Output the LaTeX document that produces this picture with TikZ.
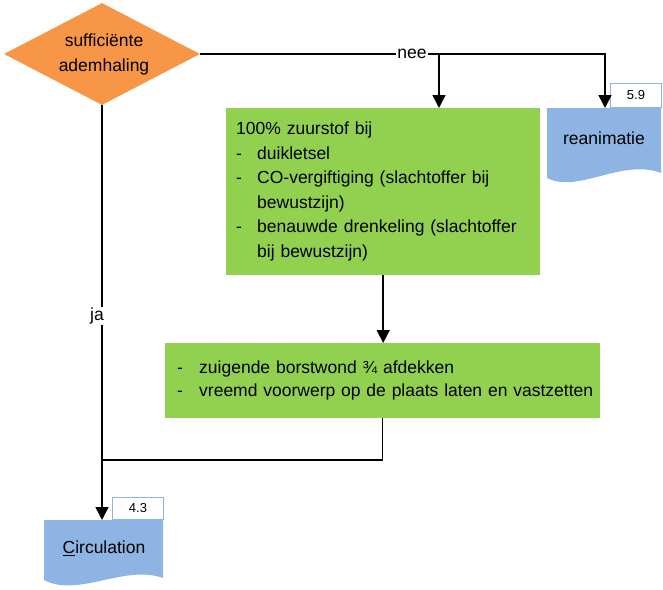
\documentclass[tikz,border=0pt]{standalone}
\usepackage{fontspec}
\setmainfont{Liberation Sans}
\usetikzlibrary{shapes.geometric,arrows.meta}
\definecolor{dorange}{HTML}{F79646}
\definecolor{dgreen}{HTML}{92D050}
\definecolor{dblue}{HTML}{8DB4E2}
\begin{document}
\begin{tikzpicture}[x=1pt,y=-1pt,
  font=\fontsize{17.5}{23}\selectfont,
  conn/.style={line width=1.5pt, draw=black},
  arr/.style={conn, -{Triangle[width=13pt,length=13pt]}},
  greenbox/.style={fill=dgreen, anchor=north west, align=left, inner ysep=0pt},
  tagbox/.style={draw=dblue, fill=white, line width=1pt, anchor=south west, inner sep=0pt,
    font=\fontsize{13}{13}\selectfont},
  lbl/.style={fill=white, inner sep=1pt}]
\useasboundingbox (0,0) rectangle (663,589);

% decision
\node[diamond, fill=dorange, minimum width=196, minimum height=102, inner sep=0pt] (d) at (102,54) {};
\node[align=center, font=\fontsize{17.5}{25}\selectfont] (dtxt) at (104,54) {sufficiënte\\ademhaling};

% reanimatie document
\fill[dblue] (547,108) -- (661,108) -- (661,173) .. controls (622,158) and (578,194) .. (547,178) -- cycle;
\node (rea) at (604,138) {reanimatie};
\node[tagbox, minimum width=51, minimum height=24] (t59) at (610,108) {5.9};
\coordinate (reatop) at (605,108);

% circulation document
\fill[dblue] (44,520) -- (163,520) -- (163,578) .. controls (125,564) and (78,598) .. (44,580) -- cycle;
\node (circ) at (104,548) {\underline{C}irculation};
\node[tagbox, minimum width=51, minimum height=22] (t43) at (112,520) {4.3};
\coordinate (circtop) at (102,520);

% green boxes
\node[greenbox, minimum width=314, minimum height=167, text width=294, inner xsep=10pt] (g1) at (226,108) {%
100\% zuurstof bij\\[1.5pt]
\makebox[21pt][l]{-}duikletsel\\[1.5pt]
\makebox[21pt][l]{-}CO-vergiftiging (slachtoffer bij\\[1.5pt]
\hspace*{21pt}bewustzijn)\\[1.5pt]
\makebox[21pt][l]{-}benauwde drenkeling (slachtoffer\\[1.5pt]
\hspace*{21pt}bij bewustzijn)};
\node[greenbox, minimum width=435, minimum height=75, text width=411, inner xsep=12pt] (g2) at (165,343) {%
\makebox[22pt][l]{-}zuigende borstwond ¾ afdekken\\
\mbox{\makebox[22pt][l]{-}vreemd voorwerp op de plaats laten en vastzetten}};

% connectors
\coordinate (j1) at (439,54);
\coordinate (ji) at (102,460);
\draw[arr] (d.east) -| (reatop);
\draw[arr] (j1) -- (j1 |- g1.north);
\draw[arr] (g1.south) -- (g1.south |- g2.north);
\draw[conn] (g2.south) |- (ji);
\draw[arr] (d.south) -- (circtop);
\node[lbl] (nee) at (412,54) {nee};
\node[lbl] (ja) at (97,316) {ja};
\end{tikzpicture}
\end{document}
